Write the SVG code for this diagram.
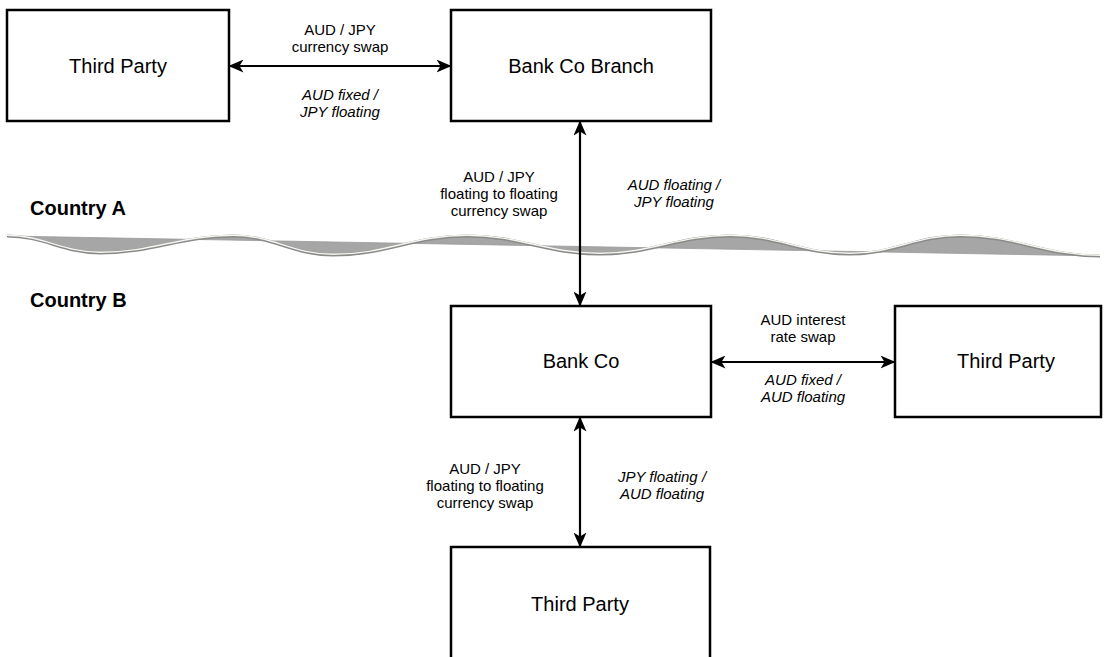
<svg xmlns="http://www.w3.org/2000/svg" width="1109" height="657" viewBox="0 0 1109 657">
  <style>
    .box { fill: #ffffff; stroke: #000000; stroke-width: 2.5; }
    .name { font-family: "Liberation Sans", Arial, sans-serif; font-size: 20px; fill: #000; text-anchor: middle; }
    .lbl { font-family: "Liberation Sans", Arial, sans-serif; font-size: 15px; fill: #000; text-anchor: middle; }
    .it { font-style: italic; }
    .country { font-family: "Liberation Sans", Arial, sans-serif; font-size: 20px; font-weight: bold; fill: #000; }
    .conn { stroke: #000; stroke-width: 2.2; fill: none; marker-start: url(#arrow); marker-end: url(#arrow); }
  </style>
  <defs>
    <marker id="arrow" viewBox="0 0 15 13" markerWidth="15" markerHeight="13" refX="14.5" refY="6.5" orient="auto-start-reverse" markerUnits="userSpaceOnUse">
      <path d="M0,0 L15,6.5 L0,13 L4,6.5 Z" fill="#000"/>
    </marker>
  </defs>
  <rect width="1109" height="657" fill="#ffffff"/>

  <g id="border">
    <path d="M7,236 C44,236 63,253 100,253 C153,253 180,236 233,236 C273,236 293,255 333,255 C387,255 413,236 467,236 C520,236 547,254 600,254 C652,254 678,236 730,236 C778,236 802,254 850,254 C894,254 916,236 960,236 C1016,236 1044,256 1100,256 L7,236 Z" fill="#a6a6a6" stroke="#9a9a9a" stroke-width="0.8"/>
    <path d="M7,236 C44,236 63,253 100,253 C153,253 180,236 233,236 C273,236 293,255 333,255 C387,255 413,236 467,236 C520,236 547,254 600,254 C652,254 678,236 730,236 C778,236 802,254 850,254 C894,254 916,236 960,236 C1016,236 1044,256 1100,256" fill="none" stroke="#8a8a8a" stroke-width="3"/>
    <path d="M7,235.3 C44,235.3 63,252.3 100,252.3 C153,252.3 180,235.3 233,235.3 C273,235.3 293,254.3 333,254.3 C387,254.3 413,235.3 467,235.3 C520,235.3 547,253.3 600,253.3 C652,253.3 678,235.3 730,235.3 C778,235.3 802,253.3 850,253.3 C894,253.3 916,235.3 960,235.3 C1016,235.3 1044,255.3 1100,255.3" fill="none" stroke="#f6f6f0" stroke-width="1.4"/>
    <text class="country" x="30" y="215">Country A</text>
    <text class="country" x="30" y="307">Country B</text>
  </g>

  <g id="connectors">
    <line class="conn" x1="229" y1="66" x2="451" y2="66"/>
    <line class="conn" x1="580" y1="121" x2="580" y2="306"/>
    <line class="conn" x1="711" y1="362" x2="895" y2="362"/>
    <line class="conn" x1="580" y1="417" x2="580" y2="547"/>
    <text class="lbl" x="340" y="35">AUD / JPY</text>
    <text class="lbl" x="340" y="52">currency swap</text>
    <text class="lbl it" x="340" y="100">AUD fixed /</text>
    <text class="lbl it" x="340" y="117">JPY floating</text>
    <text class="lbl" x="499" y="182">AUD / JPY</text>
    <text class="lbl" x="499" y="199">floating to floating</text>
    <text class="lbl" x="499" y="216">currency swap</text>
    <text class="lbl it" x="674" y="190">AUD floating /</text>
    <text class="lbl it" x="674" y="207">JPY floating</text>
    <text class="lbl" x="803" y="325">AUD interest</text>
    <text class="lbl" x="803" y="342">rate swap</text>
    <text class="lbl it" x="803" y="385">AUD fixed /</text>
    <text class="lbl it" x="803" y="402">AUD floating</text>
    <text class="lbl" x="485" y="474">AUD / JPY</text>
    <text class="lbl" x="485" y="491">floating to floating</text>
    <text class="lbl" x="485" y="508">currency swap</text>
    <text class="lbl it" x="662" y="482">JPY floating /</text>
    <text class="lbl it" x="662" y="499">AUD floating</text>
  </g>

  <g id="third-party-top">
    <rect class="box" x="7" y="10" width="222" height="111"/>
    <text class="name" x="118" y="73">Third Party</text>
  </g>
  <g id="bank-co-branch">
    <rect class="box" x="451" y="10" width="260" height="111"/>
    <text class="name" x="581" y="73">Bank Co Branch</text>
  </g>
  <g id="bank-co">
    <rect class="box" x="451" y="306" width="260" height="111"/>
    <text class="name" x="581" y="368">Bank Co</text>
  </g>
  <g id="third-party-right">
    <rect class="box" x="895" y="306" width="206" height="111"/>
    <text class="name" x="1006" y="368">Third Party</text>
  </g>
  <g id="third-party-bottom">
    <rect class="box" x="451" y="547" width="259" height="116"/>
    <text class="name" x="580" y="611">Third Party</text>
  </g>
</svg>
